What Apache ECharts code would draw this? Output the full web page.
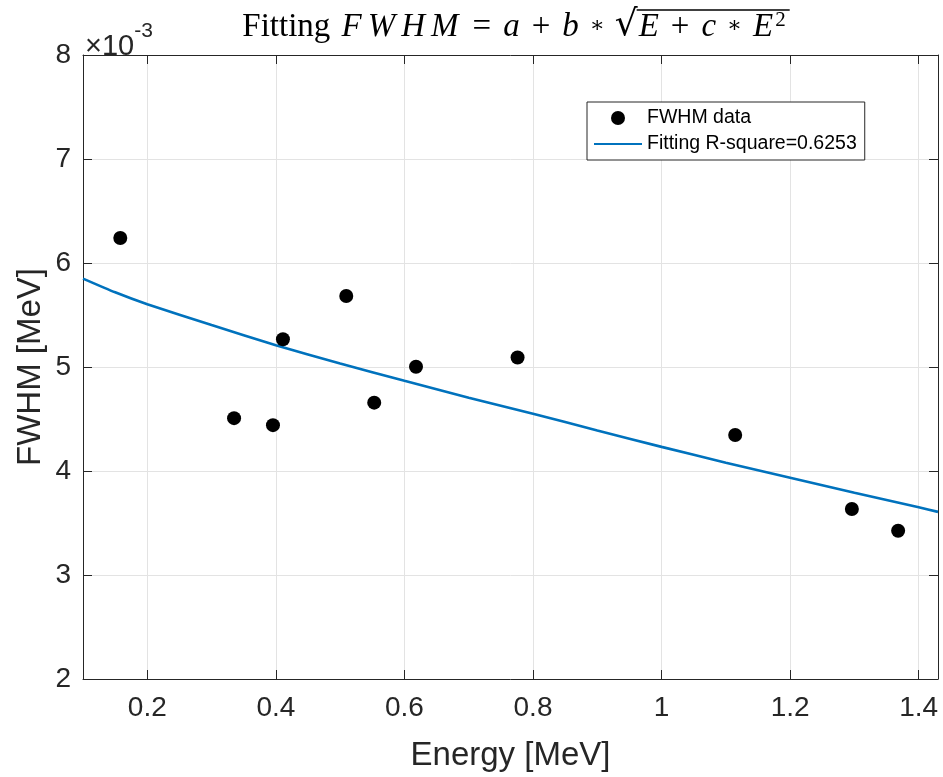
<!DOCTYPE html>
<html>
<head>
<meta charset="utf-8">
<script src="https://cdn.jsdelivr.net/npm/echarts@6/dist/echarts.min.js"></script>
<style>
html,body{margin:0;padding:0;background:#fff;}
#c{width:943px;height:777px;}
</style>
</head>
<body>
<div id="c"></div>
<script>
// Measured data (FWHM in units of 1e-3 MeV)
const energy = [0.158, 0.335, 0.3955, 0.411, 0.5095, 0.553, 0.618, 0.776, 1.1145, 1.296, 1.368];
const fwhm   = [6.241, 4.508, 4.441, 5.267, 5.683, 4.657, 5.003, 5.092, 4.346, 3.635, 3.426];
// Fitted curve
const fitE = [0.1, 0.15, 0.2, 0.3, 0.4, 0.5, 0.6, 0.7, 0.8, 0.9, 1.0, 1.1, 1.2, 1.3, 1.4, 1.43];
const fitF = [5.85, 5.718, 5.603, 5.403, 5.21, 5.033, 4.867, 4.705, 4.550, 4.39, 4.232, 4.08, 3.935, 3.79, 3.651, 3.607];
// Tick values
const xTicks = [0.2, 0.4, 0.6, 0.8, 1, 1.2, 1.4];
const yTicks = [2, 3, 4, 5, 6, 7, 8];
const legendNames = ['FWHM data', 'Fitting R-square=0.6253'];

const AX = '#262626';
const GRIDC = '#e3e3e3';
const SERIF = 'Liberation Serif';
const chart = echarts.init(document.getElementById('c'));

const pts = energy.map((e, i) => [e, fwhm[i]]);
const fit = fitE.map((e, i) => [e, fitF[i]]);

// ---- title (LaTeX-like) built as rich text; overline of the root measured from the glyphs
const TS = 33;
const richStyles = {
  n:  {fontFamily: SERIF, fontSize: TS, fontWeight: 'normal', fill: '#000', verticalAlign: 'bottom'},
  i:  {fontFamily: SERIF, fontSize: TS, fontStyle: 'italic', fontWeight: 'normal', fill: '#000', verticalAlign: 'bottom', padding: [0, 1, 0, 1]},
  m:  {fontFamily: SERIF, fontSize: TS, fontStyle: 'italic', fontWeight: 'normal', fill: '#000', verticalAlign: 'bottom', padding: [0, 3, 0, 3]},
  o:  {fontFamily: SERIF, fontSize: TS, fontWeight: 'normal', fill: '#000', verticalAlign: 'bottom', padding: [0, 11, 0, 11]},
  k:  {fontFamily: 'DejaVu Serif', fontSize: 22, fontWeight: 'normal', fill: '#000', verticalAlign: 'bottom', padding: [0, 10, 7, 10]},
  r:  {fontFamily: 'DejaVu Serif', fontSize: 36, fontWeight: 'normal', fill: '#000', verticalAlign: 'bottom', padding: [0, 0, 0, 0]},
  s:  {fontFamily: SERIF, fontSize: 21, fontWeight: 'normal', fill: '#000', verticalAlign: 'top', padding: [2, 0, 0, 1]}
};
const titleTokens = [
  ['Fitting ', 'n'], ['F', 'm'], ['W', 'm'], ['H', 'm'], ['M', 'm'], ['=', 'o'], ['a', 'i'], ['+', 'o'], ['b', 'i'], ['∗', 'k'],
  ['√', 'r'], ['E', 'i'], ['+', 'o'], ['c', 'i'], ['∗', 'k'], ['E', 'i'], ['2', 's']
];
const cv = document.createElement('canvas').getContext('2d');
function tokW(t, k) {
  const st = richStyles[k];
  cv.font = (st.fontStyle || 'normal') + ' normal ' + st.fontSize + 'px "' + st.fontFamily + '"';
  const p = st.padding || [0, 0, 0, 0];
  return cv.measureText(t).width + p[1] + p[3];
}
const widths = titleTokens.map(([t, k]) => tokW(t, k));
const totalW = widths.reduce((a, b) => a + b, 0);
const TITLE_CX = 514;
const rootIdx = titleTokens.findIndex(([t]) => t === '√');
const xStart = TITLE_CX - totalW / 2;
const ovStart = xStart + widths.slice(0, rootIdx + 1).reduce((a, b) => a + b, 0) - 1;
const ovEnd = xStart + totalW + 4;
const titleText = titleTokens.map(([t, k]) => '{' + k + '|' + t + '}').join('');

const baseX = {
  type: 'value', min: 0.1, max: 1.43,
  axisLine: {show: true, onZero: false, lineStyle: {color: AX, width: 1}},
  axisTick: {show: true, inside: true, length: 9, customValues: xTicks, lineStyle: {color: AX}},
};
const baseY = {
  type: 'value', min: yTicks[0], max: yTicks[yTicks.length - 1], interval: 1,
  axisLine: {show: true, onZero: false, lineStyle: {color: AX, width: 1}},
  axisTick: {show: true, inside: true, length: 9, lineStyle: {color: AX}},
};

chart.setOption({
  animation: false,
  backgroundColor: '#fff',
  legend: {
    orient: 'vertical', left: 587, top: 102,
    data: [
      {name: legendNames[0], icon: 'circle'},
      {name: legendNames[1], itemStyle: {opacity: 0}}
    ],
    itemWidth: 48, itemHeight: 14, itemGap: 6,
    padding: [6, 8, 6, 6],
    borderColor: AX, borderWidth: 1, backgroundColor: '#fff',
    textStyle: {fontFamily: 'Liberation Sans', fontSize: 19.5, color: '#000'}
  },
  grid: {left: 83, right: 5, top: 55, bottom: 92, containLabel: false},
  xAxis: [
    Object.assign({}, baseX, {
      position: 'bottom',
      name: 'Energy [MeV]', nameLocation: 'middle', nameGap: 60, nameMoveOverlap: false,
      nameTextStyle: {fontFamily: 'Liberation Sans', fontSize: 33, color: AX},
      axisLabel: {show: true, customValues: xTicks, margin: 15, fontFamily: 'Liberation Sans', fontSize: 28, color: AX,
        formatter: v => String(+v.toFixed(2))},
      splitLine: {show: true, lineStyle: {color: GRIDC, width: 1}}
    }),
    Object.assign({}, baseX, {
      position: 'top', axisLabel: {show: false}, splitLine: {show: false}
    })
  ],
  yAxis: [
    Object.assign({}, baseY, {
      position: 'left',
      name: 'FWHM [MeV]', nameLocation: 'middle', nameGap: 36, nameMoveOverlap: false,
      nameTextStyle: {fontFamily: 'Liberation Sans', fontSize: 33, color: AX},
      axisLabel: {show: true, margin: 12, fontFamily: 'Liberation Sans', fontSize: 28, color: AX},
      splitLine: {show: true, lineStyle: {color: GRIDC, width: 1}}
    }),
    Object.assign({}, baseY, {
      position: 'right', axisLabel: {show: false}, splitLine: {show: false}
    })
  ],
  graphic: [
    {
      type: 'text', left: 85, top: 21,
      style: {
        text: '{a|×10}{b|-3}',
        rich: {
          a: {fontFamily: 'Liberation Sans', fontSize: 29, fill: AX, verticalAlign: 'bottom'},
          b: {fontFamily: 'Liberation Sans', fontSize: 21, fill: AX, verticalAlign: 'top', padding: [0, 0, 19, 0]}
        }
      }
    },
    {
      type: 'text', x: xStart, y: 8,
      style: {text: titleText, rich: richStyles, align: 'left', verticalAlign: 'top'}
    },
    {
      type: 'line', shape: {x1: ovStart, y1: 10, x2: ovEnd, y2: 10},
      style: {stroke: '#000', lineWidth: 1.3}
    }
  ],
  series: [
    {
      name: legendNames[0], type: 'scatter', data: pts,
      symbol: 'circle', symbolSize: 14,
      itemStyle: {color: '#000', opacity: 1}, z: 3
    },
    {
      name: legendNames[1], type: 'line', data: fit,
      showSymbol: false, symbol: 'none', smooth: 0.2,
      lineStyle: {color: '#0072BD', width: 2.6},
      itemStyle: {color: '#0072BD'}, z: 2
    }
  ]
});
</script>
</body>
</html>
